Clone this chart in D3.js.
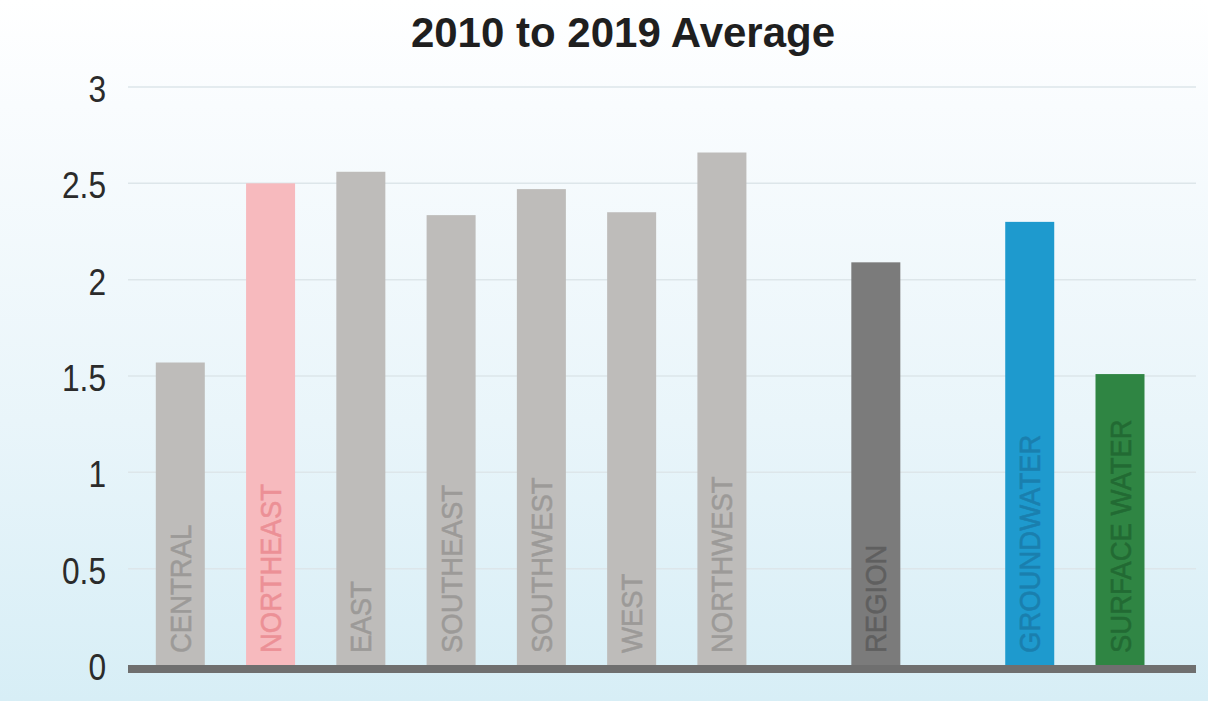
<!DOCTYPE html>
<html>
<head>
<meta charset="utf-8">
<script src="https://cdn.jsdelivr.net/npm/d3@7"></script>
<style>
html,body{margin:0;padding:0;background:#fff;}
svg{display:block;}
</style>
</head>
<body>
<svg id="chart" width="1208" height="701"></svg>
<script>
// ---- data ----
const title = "2010 to 2019 Average";
const categories = ["CENTRAL","NORTHEAST","EAST","SOUTHEAST","SOUTHWEST","WEST","NORTHWEST","REGION","GROUNDWATER","SURFACE WATER"];
const values = [1.57, 2.50, 2.56, 2.335, 2.47, 2.35, 2.66, 2.09, 2.30, 1.51];
const groups = [0,0,0,0,0,0,0,1,2,2];
const barColors = ["#bebcba","#f7babe","#bebcba","#bebcba","#bebcba","#bebcba","#bebcba","#7b7b7b","#1e9ace","#2f8543"];
const labelColors = ["#9c9a98","#ec9096","#9c9a98","#9c9a98","#9c9a98","#9c9a98","#9c9a98","#5f5f5f","#1a7fae","#226a33"];
const yTicks = [0, 0.5, 1, 1.5, 2, 2.5, 3];
const yTickLabels = ["0","0.5","1","1.5","2","2.5","3"];

// ---- layout ----
const W = 1208, H = 701;
const plotLeft = 128, plotRight = 1196;
const groupGap = 0.705;
const barW = 49;
const svg = d3.select("#chart");

// background gradient
const defs = svg.append("defs");
const grad = defs.append("linearGradient").attr("id","bg").attr("x1",0).attr("y1",0).attr("x2",0).attr("y2",1);
grad.append("stop").attr("offset","0%").attr("stop-color","#ffffff");
grad.append("stop").attr("offset","15%").attr("stop-color","#f9fcfe");
grad.append("stop").attr("offset","60%").attr("stop-color","#e9f5fa");
grad.append("stop").attr("offset","100%").attr("stop-color","#d7eef6");
svg.append("rect").attr("width",W).attr("height",H).attr("fill","url(#bg)");

const y = d3.scaleLinear().domain([0,3]).range([665,87]);
const pos = categories.map((c,i)=> i + groupGap*groups[i]);
const x = d3.scaleLinear().domain([0, d3.max(pos)]).range([180.3, 1120]);

// gridlines
svg.append("g").selectAll("line").data(yTicks.filter(t=>t>0)).join("line")
  .attr("x1",plotLeft).attr("x2",plotRight)
  .attr("y1",d=>y(d)).attr("y2",d=>y(d))
  .attr("stroke","#dde6ea").attr("stroke-width",1.5);

// y-axis labels
svg.append("g").selectAll("text").data(yTicks).join("text")
  .attr("transform",d=>`translate(106,${y(d)+2}) scale(0.88,1.03)`)
  .attr("text-anchor","end")
  .attr("dominant-baseline","central")
  .attr("font-family","'Liberation Sans', Arial, sans-serif")
  .attr("font-size",36)
  .attr("fill","#2b2b2b")
  .text((d,i)=>yTickLabels[i]);

// bars
svg.append("g").selectAll("rect").data(values).join("rect")
  .attr("x",(d,i)=>x(pos[i]) - barW/2)
  .attr("width",barW)
  .attr("y",d=>y(d))
  .attr("height",d=>y(0)-y(d))
  .attr("fill",(d,i)=>barColors[i]);

// bar labels (rotated)
svg.append("g").selectAll("text").data(categories).join("text")
  .attr("transform",(d,i)=>`translate(${x(pos[i]) + 10.5},${y(0) - 12}) rotate(-90) scale(1,1.08)`)
  .attr("text-anchor","start")
  .attr("font-family","'Liberation Sans', Arial, sans-serif")
  .attr("font-size",27.5)
  .attr("fill",(d,i)=>labelColors[i])
  .attr("stroke",(d,i)=>labelColors[i])
  .attr("stroke-width",0.5)
  .text(d=>d);

// baseline
svg.append("rect")
  .attr("x",plotLeft).attr("width",plotRight-plotLeft)
  .attr("y",y(0)).attr("height",8)
  .attr("fill","#6f6f6f");

// title
svg.append("text")
  .attr("x",623).attr("y",47)
  .attr("text-anchor","middle")
  .attr("font-family","'Liberation Sans', Arial, sans-serif")
  .attr("font-weight","bold")
  .attr("font-size",42)
  .attr("fill","#1f1f1f")
  .text(title);
</script>
</body>
</html>
